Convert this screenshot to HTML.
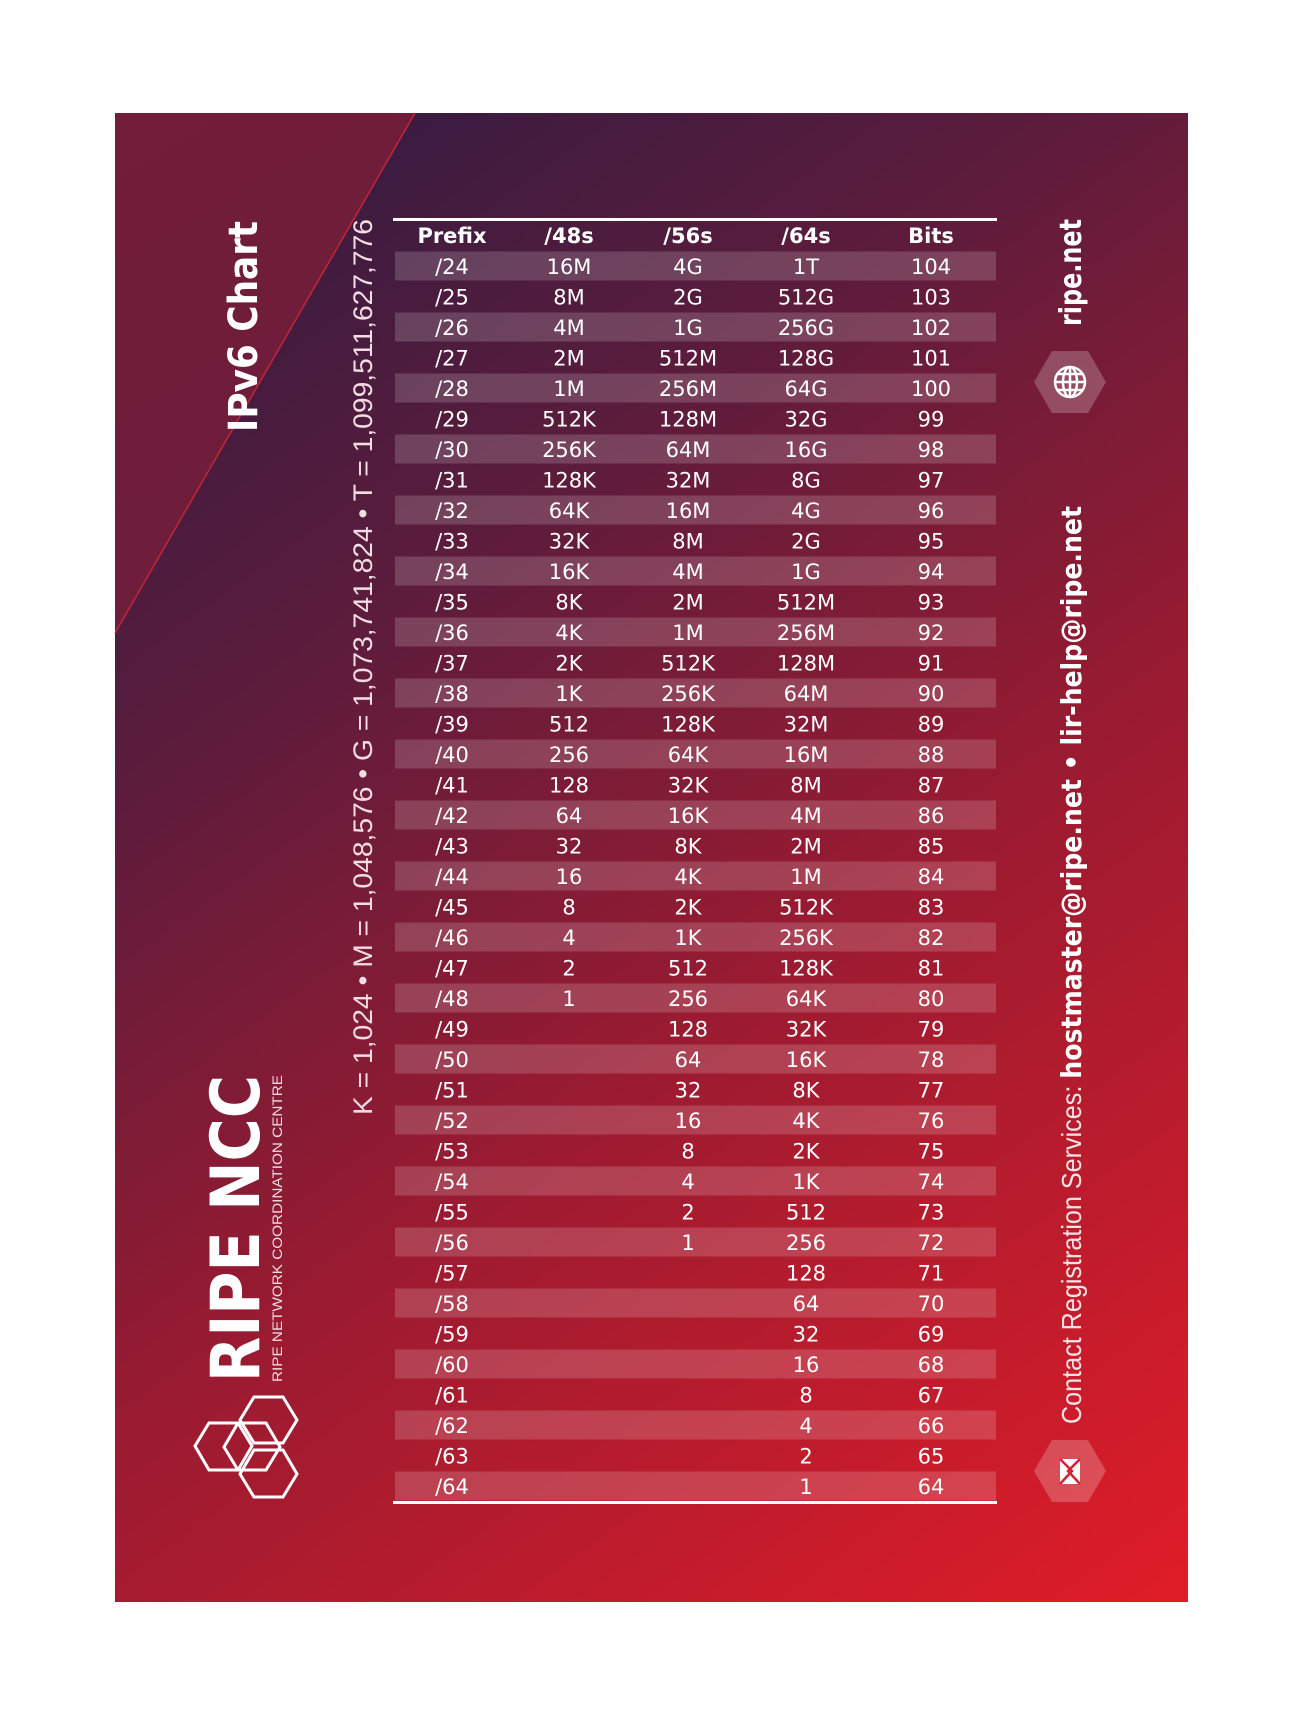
<!DOCTYPE html>
<html><head><meta charset="utf-8">
<style>
html,body{margin:0;padding:0;background:#fff;}
#root{position:relative;width:1303px;height:1717px;overflow:hidden;background:#fff;}
svg{position:absolute;left:0;top:0;}
</style></head>
<body>
<div id="root">
<svg id="svg" width="1303" height="1717" viewBox="0 0 1303 1717">
<defs>
<linearGradient id="bg" x1="115" y1="113" x2="1188" y2="1602" gradientUnits="userSpaceOnUse">
<stop offset="0" stop-color="#2b1b42"/>
<stop offset="0.3" stop-color="#5c1c3c"/>
<stop offset="0.6" stop-color="#9c1b31"/>
<stop offset="1" stop-color="#e01d28"/>
</linearGradient>
<linearGradient id="tri" x1="115" y1="113" x2="415" y2="633" gradientUnits="userSpaceOnUse">
<stop offset="0" stop-color="#721d39"/>
<stop offset="1" stop-color="#6c1d3a"/>
</linearGradient>
</defs>
<rect x="115" y="113" width="1073" height="1489" fill="url(#bg)"/>
<polygon points="115,113 415,113 115,633" fill="url(#tri)"/>
<line x1="415" y1="113" x2="115" y2="633" stroke="#c5243a" stroke-width="1.5"/>
<g id="table"></g>

<text transform="translate(257,432) rotate(-90)" font-family="'DejaVu Sans','Liberation Sans',sans-serif" font-weight="bold" font-size="40" fill="#fff" textLength="211" lengthAdjust="spacingAndGlyphs">IPv6 Chart</text>
<text transform="translate(372,1115) rotate(-90)" font-family="'Liberation Sans',sans-serif" font-size="27" fill="#f3dde3" textLength="896" lengthAdjust="spacingAndGlyphs">K = 1,024 • M = 1,048,576 • G = 1,073,741,824 • T = 1,099,511,627,776</text>
<text transform="translate(259,1382) rotate(-90)" font-family="'DejaVu Sans','Liberation Sans',sans-serif" font-weight="bold" font-size="68" fill="#fff" textLength="307" lengthAdjust="spacingAndGlyphs">RIPE NCC</text>
<text transform="translate(282,1382) rotate(-90)" font-family="'Liberation Sans',sans-serif" font-size="14" fill="#f3dde3" textLength="307" lengthAdjust="spacingAndGlyphs">RIPE NETWORK COORDINATION CENTRE</text>
<g fill="none" stroke="#fff" stroke-width="3">
<polygon points="195,1446 209,1423 238,1423 252,1446 238,1470 209,1470"/>
<polygon points="240,1420 254,1397 283,1397 297,1420 283,1443 254,1443"/>
<polygon points="240,1474 254,1450 283,1450 297,1474 283,1497 254,1497"/>
<polygon points="224,1447 238,1423 266,1423 280,1447 266,1470 238,1470"/>
</g>

<text transform="translate(1081,326) rotate(-90)" font-family="'DejaVu Sans','Liberation Sans',sans-serif" font-weight="bold" font-size="30" fill="#fff" textLength="107" lengthAdjust="spacingAndGlyphs">ripe.net</text>
<g>
<polygon points="1034,382 1052,351 1088,351 1106,382 1088,413 1052,413" fill="rgba(255,255,255,0.22)"/>
<g fill="none" stroke="#fff" stroke-width="2.5">
<circle cx="1070" cy="382" r="15"/>
<line x1="1055" y1="382" x2="1085" y2="382"/>
<line x1="1057" y1="374" x2="1083" y2="374"/>
<line x1="1057" y1="390" x2="1083" y2="390"/>
<line x1="1070" y1="367" x2="1070" y2="397"/>
<ellipse cx="1070" cy="382" rx="7" ry="15"/>
</g></g>
<text transform="translate(1081,1424) rotate(-90)" font-family="'Liberation Sans',sans-serif" font-size="28" fill="#fff" textLength="918" lengthAdjust="spacingAndGlyphs"><tspan fill="#f5e3e6">Contact Registration Services: </tspan><tspan font-weight="bold" font-family="'DejaVu Sans','Liberation Sans',sans-serif">hostmaster@ripe.net • lir-help@ripe.net</tspan></text>
<g>
<polygon points="1034,1471 1052,1440 1088,1440 1106,1471 1088,1502 1052,1502" fill="rgba(255,255,255,0.22)"/>
<rect x="1060" y="1459" width="20" height="25" fill="#fff"/>
<polyline points="1060,1459 1072,1471 1060,1484" fill="none" stroke="#d42231" stroke-width="2.5"/>
<polyline points="1080,1459 1068,1471 1080,1484" fill="none" stroke="#d42231" stroke-width="2.5"/>
</g>
</svg>
</div>
<script>
const prefixes = ["/24","/25","/26","/27","/28","/29","/30","/31","/32","/33","/34","/35","/36","/37","/38","/39","/40","/41","/42","/43","/44","/45","/46","/47","/48","/49","/50","/51","/52","/53","/54","/55","/56","/57","/58","/59","/60","/61","/62","/63","/64"];
const count48 = ["16M","8M","4M","2M","1M","512K","256K","128K","64K","32K","16K","8K","4K","2K","1K","512","256","128","64","32","16","8","4","2","1","","","","","","","","","","","","","","","",""];
const count56 = ["4G","2G","1G","512M","256M","128M","64M","32M","16M","8M","4M","2M","1M","512K","256K","128K","64K","32K","16K","8K","4K","2K","1K","512","256","128","64","32","16","8","4","2","1","","","","","","","",""];
const count64 = ["1T","512G","256G","128G","64G","32G","16G","8G","4G","2G","1G","512M","256M","128M","64M","32M","16M","8M","4M","2M","1M","512K","256K","128K","64K","32K","16K","8K","4K","2K","1K","512","256","128","64","32","16","8","4","2","1"];
const bits = ["104","103","102","101","100","99","98","97","96","95","94","93","92","91","90","89","88","87","86","85","84","83","82","81","80","79","78","77","76","75","74","73","72","71","70","69","68","67","66","65","64"];
const headers = ["Prefix","/48s","/56s","/64s","Bits"];

const NS = "http://www.w3.org/2000/svg";
const tbl = document.getElementById('table');
const tableLeft = 395, tableRight = 996;
const colX = [452, 569, 688, 806, 931];
const row0 = 266, pitch = 30.5;
function rowY(i){ return row0 + i*pitch; }
const fontStack = "'DejaVu Sans','Liberation Sans',sans-serif";

function mk(tag, attrs){ const e = document.createElementNS(NS, tag); for (const k in attrs) e.setAttribute(k, attrs[k]); return e; }

const topRule = mk('rect', {x:393, y:218, width:604, height:3, fill:'#fff'});


tbl.appendChild(topRule);
const botRule = mk('rect', {x:393, y:1501, width:604, height:3, fill:'#fff'});


tbl.appendChild(botRule);

headers.forEach((h, c) => {
  const t = mk('text', {x: colX[c], y: 243, 'text-anchor':'middle', 'font-family':fontStack, 'font-weight':'bold', 'font-size':21, fill:'#fff'});
  t.textContent = h;
  
  
  tbl.appendChild(t);
});

const cols = [prefixes, count48, count56, count64, bits];
prefixes.forEach((p, i) => {
  const y = rowY(i);
  if (i % 2 === 0) {
    const r = mk('rect', {x: tableLeft, y: y-14.5, width: tableRight-tableLeft, height: 29, fill:'rgba(255,255,255,0.17)'});
    
    
    tbl.appendChild(r);
  }
  cols.forEach((arr, c) => {
    if (!arr[i]) return;
    const t = mk('text', {x: colX[c], y: y+8, 'text-anchor':'middle', 'font-family':fontStack, 'font-size':21, fill:'#fff'});
    t.textContent = arr[i];
    
    
    tbl.appendChild(t);
  });
});
</script>
</body></html>
